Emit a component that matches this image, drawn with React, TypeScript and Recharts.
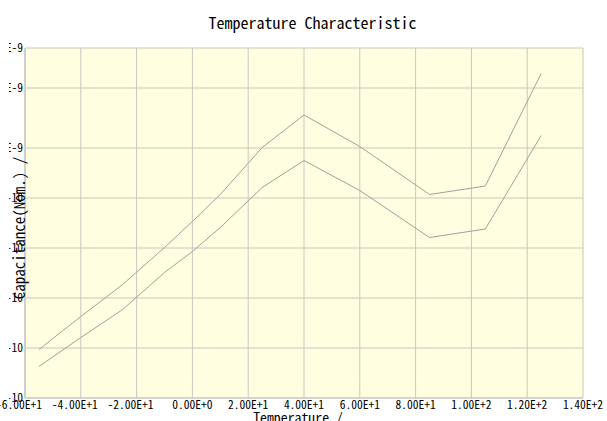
import React from 'react';
import { LineChart, Line, XAxis, YAxis, CartesianGrid } from 'recharts';

const temperatures = [-55, -40, -25, -10, 0, 10, 25, 40, 60, 85, 105, 125];
const upperCap = [5.97e-10, 6.63e-10, 7.27e-10, 8.01e-10, 8.53e-10, 9.07e-10, 1.001e-9, 1.066e-9, 1.003e-9, 9.07e-10, 9.24e-10, 1.149e-9];
const lowerCap = [5.63e-10, 6.21e-10, 6.77e-10, 7.51e-10, 7.93e-10, 8.41e-10, 9.21e-10, 9.75e-10, 9.15e-10, 8.21e-10, 8.38e-10, 1.025e-9];
const xTicks = [-60, -40, -20, 0, 20, 40, 60, 80, 100, 120, 140];
const yTicks = [5e-10, 6e-10, 7e-10, 8e-10, 9e-10, 1e-9, 1.12e-9, 1.2e-9];

const data = temperatures.map((t, i) => ({ t, upper: upperCap[i], lower: lowerCap[i] }));

const FONT = '"Noto Sans Mono CJK JP", "Noto Sans CJK JP", "DejaVu Sans Mono", monospace';
const fmt = (v: number) => v.toExponential(2).toUpperCase();

const XTick = (props: any) => {
  const { x, y, payload } = props;
  const v = payload.value as number;
  return (
    <text x={x + (v < 0 ? -6 : 0)} y={y} dy={11} textAnchor="middle" fontFamily={FONT} fontSize={11.5} fill="#000">
      {fmt(v)}
    </text>
  );
};

const YTick = (props: any) => {
  const { x, y, payload, index } = props;
  const id = `yclip-${index}`;
  return (
    <g>
      <defs>
        <clipPath id={id}>
          <rect x={9} y={y - 10} width={30} height={20} />
        </clipPath>
      </defs>
      <text x={x} y={y} dy={4} textAnchor="end" fontFamily={FONT} fontSize={11.5} fill="#000" clipPath={`url(#${id})`}>
        {fmt(payload.value)}
      </text>
    </g>
  );
};

const YLabel = (props: any) => {
  const vb = props.viewBox || { x: 0, y: 48, width: 25, height: 350 };
  const cx = 18;
  const cy = vb.y + vb.height / 2 + 5;
  return (
    <text x={cx} y={cy} transform={`rotate(-90 ${cx} ${cy})`} textAnchor="middle" dominantBaseline="central" fontFamily={FONT} fontSize={15} fill="#000">
      Capacitance(Nom.) /
    </text>
  );
};

const XLabel = (props: any) => {
  const vb = props.viewBox || { x: 25, y: 398, width: 558, height: 23 };
  const cx = vb.x + vb.width / 2 - 6;
  return (
    <text x={cx} y={423} textAnchor="middle" fontFamily={FONT} fontSize={13.8} fill="#000">
      Temperature /
    </text>
  );
};

export default function App() {
  return (
    <div style={{ position: 'absolute', left: 0, top: 0, width: 607, height: 421, background: '#fff' }}>
      <LineChart width={607} height={421} data={data} margin={{ top: 48, right: 24, left: 0, bottom: 0 }}>
        <text x={312.5} y={29} textAnchor="middle" fontFamily={FONT} fontSize={16} fill="#000">
          Temperature Characteristic
        </text>
        <CartesianGrid stroke="#c8c8c0" fill="#FFFEE0" horizontalValues={yTicks} verticalValues={xTicks} />
        <XAxis
          dataKey="t"
          type="number"
          domain={[-60, 140]}
          ticks={xTicks}
          interval={0}
          height={23}
          tickLine={false}
          tickSize={0}
          tickMargin={0}
          axisLine={{ stroke: '#c8c8c0' }}
          tick={<XTick />}
          label={<XLabel />}
        />
        <YAxis
          type="number"
          domain={[5e-10, 1.2e-9]}
          ticks={yTicks}
          interval={0}
          width={25}
          tickLine={false}
          tickSize={0}
          tickMargin={2}
          axisLine={{ stroke: '#cfcfcf', strokeWidth: 2 }}
          tick={<YTick />}
          label={<YLabel />}
          allowDataOverflow
        />
        <Line type="linear" dataKey="upper" stroke="#a0a0a0" strokeWidth={1} dot={false} isAnimationActive={false} />
        <Line type="linear" dataKey="lower" stroke="#a0a0a0" strokeWidth={1} dot={false} isAnimationActive={false} />
      </LineChart>
    </div>
  );
}
